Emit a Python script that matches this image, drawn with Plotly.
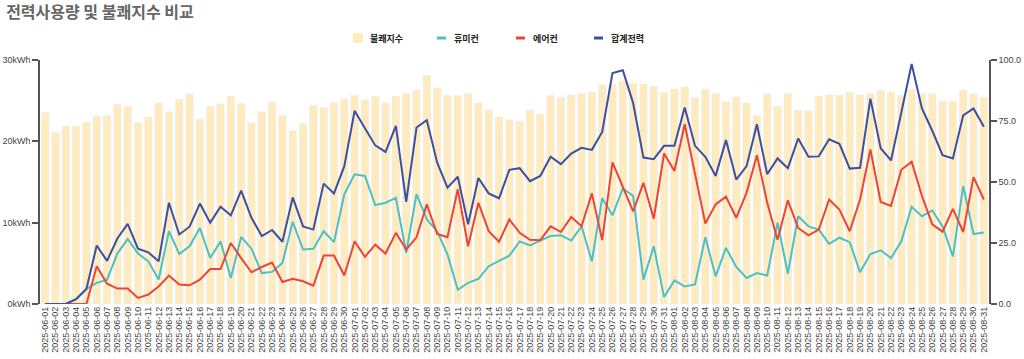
import pandas as pd
import plotly.graph_objects as go

dates = [d.strftime("%Y-%m-%d") for d in pd.date_range("2025-06-01", "2025-08-31")]

discomfort = [78.4, 70.2, 72.8, 72.8, 74.3, 77.0, 77.3, 81.8, 81.0, 74.3,
              76.6, 82.4, 78.8, 83.9, 86.1, 75.7, 81.0, 82.0, 85.1, 82.1,
              74.3, 78.8, 82.9, 77.3, 70.9, 74.0, 81.4, 80.5, 82.6, 83.9,
              85.5, 83.6, 85.1, 82.4, 85.1, 86.3, 87.7, 93.6, 88.5, 85.5,
              85.5, 86.2, 82.4, 79.5, 76.6, 75.5, 75.0, 79.5, 77.8, 85.4,
              84.7, 85.7, 86.3, 86.9, 89.8, 89.9, 91.4, 90.4, 90.2, 89.2,
              86.6, 88.1, 88.9, 84.7, 88.1, 86.1, 82.9, 84.8, 82.4, 77.3,
              86.1, 81.0, 86.1, 79.5, 79.2, 85.2, 85.7, 85.5, 86.7, 85.7,
              86.3, 87.7, 86.9, 85.5, 88.1, 86.3, 86.1, 83.1, 83.1, 87.7,
              86.1, 84.7]

humidifier = [0, 0, 0, 0.6, 1.85, 2.6, 3.0, 6.2, 8.0, 6.2,
              5.25, 3.0, 8.95, 6.15, 7.1, 9.35, 5.65, 7.7, 3.2, 8.25,
              6.8, 3.8, 3.95, 5.05, 10.1, 6.7, 6.8, 8.95, 7.6, 13.5,
              15.95, 15.75, 12.15, 12.45, 13.05, 6.3, 13.5, 10.4, 8.95, 6.1,
              1.75, 2.6, 3.1, 4.65, 5.25, 5.95, 7.7, 7.2, 7.8, 8.35,
              8.45, 7.8, 9.55, 5.25, 13.0, 10.9, 14.2, 13.3, 3.0, 7.1,
              0.85, 2.9, 2.15, 2.4, 8.2, 3.4, 6.9, 4.55, 3.2, 3.8,
              3.5, 10.0, 3.75, 10.8, 9.55, 9.15, 7.4, 8.15, 7.6, 3.9,
              6.15, 6.6, 5.65, 7.7, 11.95, 10.8, 11.5, 9.55, 5.85, 14.5,
              8.6, 8.8]

aircon = [0, 0, 0, 0, 0, 4.65, 2.5, 1.9, 1.9, 0.75,
          1.15, 2.15, 3.5, 2.4, 2.3, 3.0, 4.3, 4.3, 7.5, 5.65,
          3.9, 4.55, 5.1, 2.7, 3.1, 2.8, 2.25, 5.95, 5.95, 3.5,
          7.7, 5.8, 7.3, 6.2, 8.75, 6.7, 8.2, 12.25, 8.6, 8.2,
          14.1, 7.1, 12.45, 8.95, 7.65, 10.4, 8.75, 7.9, 7.85, 9.55,
          8.85, 10.7, 9.55, 13.6, 7.85, 17.4, 14.4, 11.4, 14.9, 10.5,
          18.5, 16.35, 22.1, 16.15, 9.9, 12.25, 13.2, 10.6, 13.7, 18.3,
          12.45, 7.9, 12.75, 9.35, 8.45, 9.15, 12.85, 11.6, 8.95, 12.85,
          19.0, 12.55, 12.05, 16.5, 17.5, 13.3, 9.8, 8.9, 11.7, 8.85,
          15.6, 12.85]

total = [0, 0, 0, 0.6, 1.85, 7.2, 5.3, 8.05, 9.85, 6.8,
         6.35, 5.25, 12.45, 8.55, 9.5, 12.35, 10.0, 11.95, 10.9, 13.95,
         10.6, 8.35, 9.1, 7.65, 13.1, 9.55, 9.15, 14.8, 13.6, 16.95,
         23.75, 21.6, 19.5, 18.7, 21.9, 12.55, 21.7, 22.6, 17.4, 14.3,
         15.65, 9.8, 15.5, 13.6, 13.0, 16.5, 16.7, 15.1, 15.75, 18.1,
         17.2, 18.5, 19.2, 18.95, 21.15, 28.4, 28.75, 24.7, 18.0, 17.8,
         19.45, 19.45, 24.15, 19.45, 18.1, 15.75, 20.15, 15.3, 16.95, 22.1,
         15.95, 17.9, 16.7, 20.35, 18.1, 18.15, 20.25, 19.7, 16.65, 16.75,
         25.25, 19.15, 17.65, 23.55, 29.5, 24.05, 21.3, 18.3, 17.9, 23.2,
         24.05, 21.8]

kwh_ticks = [0, 10, 20, 30]
kwh_labels = ["0kWh", "10kWh", "20kWh", "30kWh"]
idx_ticks = [0, 25, 50, 75, 100]
idx_labels = ["0.0", "25.0", "50.0", "75.0", "100.0"]

C_BAR = "#FFEBBD"
C_TEAL = "#4BC0C8"
C_RED = "#EE4438"
C_BLUE = "#3B50A4"
AX = "#555555"
FONT = "Liberation Sans, Arial, Noto Sans CJK KR, sans-serif"
KFONT = "Noto Sans CJK KR, Liberation Sans, sans-serif"

fig = go.Figure()
fig.add_trace(go.Bar(x=dates, y=discomfort, name="불쾌지수", marker_color=C_BAR,
                     yaxis="y", showlegend=False))
for name, vals, col in [("휴미컨", humidifier, C_TEAL), ("에어컨", aircon, C_RED),
                        ("합계전력", total, C_BLUE)]:
    fig.add_trace(go.Scatter(x=dates, y=vals, name=name, mode="lines",
                             line=dict(color=col, width=2), yaxis="y2",
                             showlegend=False))

# custom legend
legend_items = [("불쾌지수", C_BAR, "box", 353), ("휴미컨", C_TEAL, "line", 437),
                ("에어컨", C_RED, "line", 516), ("합계전력", C_BLUE, "line", 594)]
shapes = []
annotations = []
for label, col, kind, px in legend_items:
    if kind == "box":
        shapes.append(dict(type="rect", xref="paper", yref="paper",
                           x0=(px - 40) / 949, x1=(px + 10 - 40) / 949,
                           y0=(304 - 43) / 244, y1=(304 - 33) / 244,
                           fillcolor=col, line=dict(width=0)))
    else:
        shapes.append(dict(type="line", xref="paper", yref="paper",
                           x0=(px - 40) / 949, x1=(px + 9 - 40) / 949,
                           y0=(304 - 38) / 244, y1=(304 - 38) / 244,
                           line=dict(color=col, width=3)))
    annotations.append(dict(text=label, xref="paper", yref="paper",
                            x=(px + 15 - 40) / 949, y=(304 - 38) / 244,
                            xanchor="left", yanchor="middle", showarrow=False,
                            font=dict(family=KFONT, size=9, color="#222222",
                                      weight="bold")))

fig.update_layout(
    width=1024, height=359,
    margin=dict(l=40, r=35, t=60, b=55),
    paper_bgcolor="white", plot_bgcolor="white",
    title=dict(text="전력사용량 및 불쾌지수 비교", x=0.006, xanchor="left",
               y=0.965, yanchor="middle",
               font=dict(family=KFONT, size=16, color="#666666", weight="bold")),
    bargap=0.28,
    font=dict(family=FONT, size=9, color="#444444"),
    shapes=shapes, annotations=annotations,
    xaxis=dict(type="category", tickangle=-90, tickmode="linear", dtick=1,
               tickfont=dict(size=9, color="#444444"),
               showgrid=False, showline=False, ticks="", automargin=False),
    yaxis=dict(side="right", range=[0, 100], tickmode="array",
               tickvals=idx_ticks, ticktext=idx_labels,
               showgrid=False, zeroline=False,
               showline=True, linecolor=AX, linewidth=1.5, ticks="outside",
               ticklen=6, tickcolor=AX, tickwidth=1.5,
               tickfont=dict(size=9, color="#444444"), automargin=False),
    yaxis2=dict(side="left", overlaying="y", range=[0, 30], tickmode="array",
                tickvals=kwh_ticks, ticktext=kwh_labels,
                showgrid=False, zeroline=False,
                showline=True, linecolor=AX, linewidth=1.5, ticks="outside",
                ticklen=6, tickcolor=AX, tickwidth=1.5,
                tickfont=dict(size=9, color="#444444"), automargin=False),
)

fig.write_html("out.html", config={"displayModeBar": False},
               post_script="document.body.style.margin='0';document.body.style.overflow='hidden';")
